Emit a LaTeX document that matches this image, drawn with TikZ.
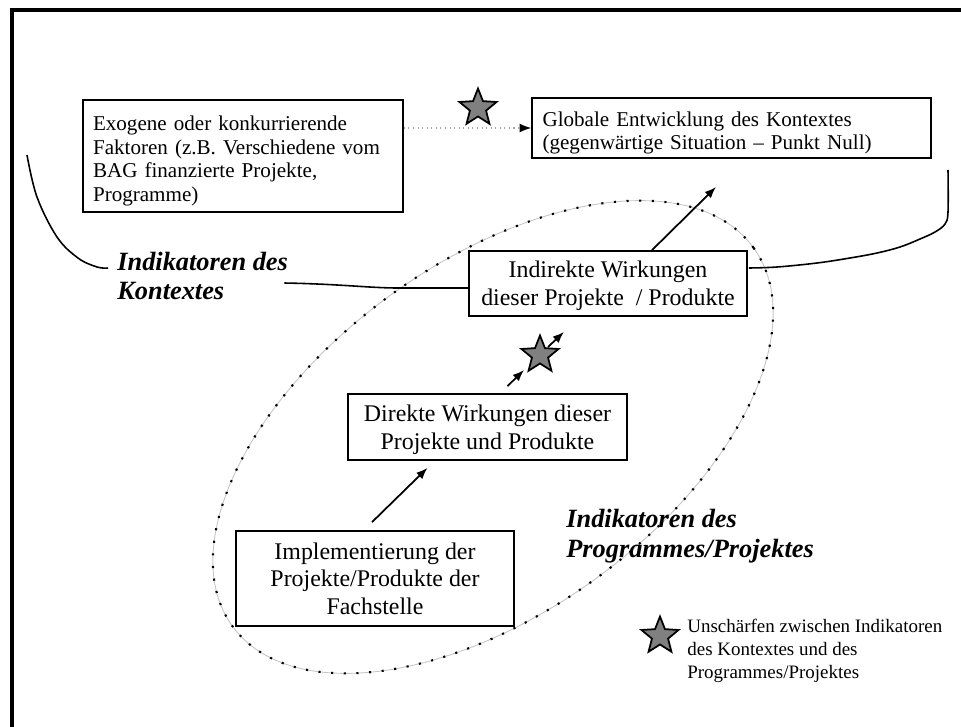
\documentclass[tikz,border=0pt]{standalone}
\usepackage{fontspec}
\setmainfont{Liberation Serif}
\usetikzlibrary{shapes.geometric,arrows.meta}
\definecolor{sterngrau}{RGB}{128,128,128}

\begin{document}
\begin{tikzpicture}[x=0.02cm,y=-0.02cm,
    box/.style={draw, line width=1pt, inner sep=0pt, align=center, text depth=0pt, font=\fontsize{13.6}{15.8}\selectfont},
    kleinbox/.style={draw, line width=1pt, inner sep=0pt, align=left, text height=14pt, font=\fontsize{12}{13.6}\selectfont},
    arr/.style={line width=1pt, -{Latex[length=6.5pt,width=5pt]}},
    sternchen/.style={star, star points=5, star point ratio=2.3, draw, line width=1pt, fill=sterngrau, minimum size=0.78cm, inner sep=0pt},
    klammer/.style={line width=0.9pt},
    indik/.style={font=\fontsize{15}{17}\selectfont\bfseries\itshape, align=left, inner sep=0pt}]

    \useasboundingbox (0,0) rectangle (961,727);
    \draw[line width=2pt] (12,727) -- (12,10) -- (961,10);

    % oval der Programm-Indikatoren
    \draw[gray!45, line width=0.5pt, rotate around={36:(493,437)}] (493,437) ellipse [x radius=322, y radius=175];
    \draw[line width=1.2pt, dash pattern=on 1.2pt off 6pt, rotate around={36:(493,437)}] (493,437) ellipse [x radius=322, y radius=175];

    \node[kleinbox, minimum width=6.4cm, minimum height=2.24cm, text width=6cm] (exogen) at (243,156) {Exogene oder konkurrierende\\Faktoren (z.B. Verschiedene vom\\BAG finanzierte Projekte,\\Programme)};
    \node[kleinbox, minimum width=7.98cm, minimum height=1.2cm, text width=7.56cm] (global) at (731.5,128) {Globale Entwicklung des Kontextes\\(gegenwärtige Situation -- Punkt Null)};

    \node[box, minimum width=5.56cm, minimum height=1.3cm] (indirekt) at (608,283.5) {Indirekte Wirkungen\\dieser Projekte\ \ / Produkte};
    \node[box, minimum width=5.58cm, minimum height=1.32cm] (direkt) at (487.5,427) {Direkte Wirkungen dieser\\Projekte und Produkte};
    \node[box, minimum width=5.56cm, minimum height=1.9cm] (impl) at (375,578.5) {Implementierung der\\Projekte/Produkte der\\Fachstelle};

    \node[sternchen] (sternoben) at (478,108) {};
    \node[sternchen] (sternmitte) at (540,355) {};
    \node[sternchen] (sternlegende) at (660,636) {};

    \node[indik, anchor=west] (ikontext) at (117,276) {Indikatoren des\\Kontextes};
    \node[indik, anchor=west] (iprogramm) at (566,536) {Indikatoren des\\Programmes/Projektes};
    \node[anchor=west, align=left, inner sep=0pt, font=\fontsize{10.8}{13.2}\selectfont] (legende) at (687,651) {Unschärfen zwischen Indikatoren\\des Kontextes und des\\Programmes/Projektes};

    % pfeile
    \draw[gray!70, dotted, line width=0.6pt, -{Latex[length=6.5pt,width=5pt,black]}] (exogen.east |- global.west) -- (global.west);
    \draw[arr] ([shift={(-3,-8)}]impl.north) -- ([shift={(-60,7)}]direkt.south);
    \draw[arr] ([shift={(20,-7)}]direkt.north) -- ([shift={(-16,15)}]sternmitte.center);
    \draw[arr] ([shift={(8,-8)}]sternmitte.center) -- ([shift={(-44,15)}]indirekt.south);
    \coordinate (globalziel) at (716,187);
    \draw[arr] ([shift={(44,0)}]indirekt.north) -- (globalziel);

    % klammer kontext
    \draw[klammer] plot[smooth, tension=0.6] coordinates {(27,155) (37,197) (57,237) (78,258) (97,267) (108,268)};
    \draw[klammer] ([shift={(-4,7)}]ikontext.east) .. controls (340,284) and (370,288) .. (398,288) -- ([shift={(0,4.5)}]indirekt.west);
    \draw[klammer] plot[smooth, tension=0.6] coordinates {([shift={(1,-15.5)}]indirekt.east) (777,267) (817,263) (850,258) (877,253) (900,247) (920,239) (935,232) (945,224) (948,212) (948,170)};

\end{tikzpicture}
\end{document}
